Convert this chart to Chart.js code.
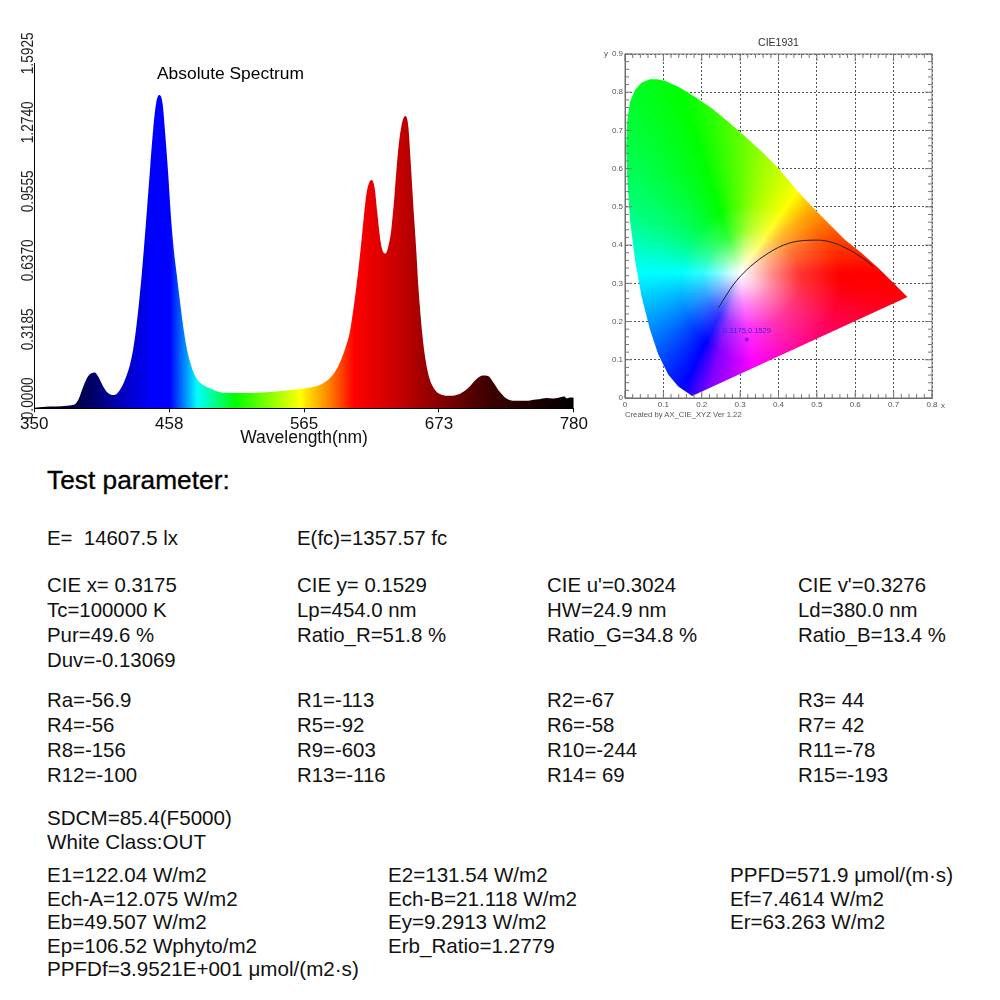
<!DOCTYPE html>
<html>
<head>
<meta charset="utf-8">
<script src="https://cdn.jsdelivr.net/npm/chart.js@4"></script>
<style>
body { margin: 0; background: #fff; font-family: "Liberation Sans", Arial, sans-serif; color: #111; }
canvas { position: absolute; }
.b { position: absolute; font-size: 20.4px; line-height: 25px; white-space: pre; }
.c { font-size: 20.6px; line-height: 23.6px; }
</style>
</head>
<body>
<canvas id="spectrumChart" width="590" height="430" style="left:0;top:20px"></canvas>
<canvas id="cieChart" width="370" height="400" style="left:590px;top:30px"></canvas>

<div class="b" style="left:157px;top:60px;font-size:17.4px;line-height:26px;color:#000">Absolute Spectrum</div>
<div class="b" style="left:678px;top:35px;width:201px;text-align:center;font-size:10.5px;line-height:14px;color:#333">CIE1931</div>
<div class="b" style="left:625px;top:408px;font-size:7.7px;line-height:14px;color:#555">Created by AX_CIE_XYZ Ver 1.22</div>

<div class="b" style="left:47px;top:465px;font-size:26.3px;line-height:30px;color:#000;-webkit-text-stroke:0.3px #000">Test parameter:</div>

<div class="b" style="left:47px;top:526px">E=  14607.5 lx</div>
<div class="b" style="left:297px;top:526px">E(fc)=1357.57 fc</div>

<div class="b" style="left:47px;top:573px">CIE x= 0.3175
Tc=100000 K
Pur=49.6 %
Duv=-0.13069</div>
<div class="b" style="left:297px;top:573px">CIE y= 0.1529
Lp=454.0 nm
Ratio_R=51.8 %</div>
<div class="b" style="left:547px;top:573px">CIE u'=0.3024
HW=24.9 nm
Ratio_G=34.8 %</div>
<div class="b" style="left:798px;top:573px">CIE v'=0.3276
Ld=380.0 nm
Ratio_B=13.4 %</div>

<div class="b" style="left:47px;top:688px">Ra=-56.9
R4=-56
R8=-156
R12=-100</div>
<div class="b" style="left:297px;top:688px">R1=-113
R5=-92
R9=-603
R13=-116</div>
<div class="b" style="left:547px;top:688px">R2=-67
R6=-58
R10=-244
R14= 69</div>
<div class="b" style="left:798px;top:688px">R3= 44
R7= 42
R11=-78
R15=-193</div>

<div class="b c" style="left:47px;top:806px">SDCM=85.4(F5000)
White Class:OUT</div>

<div class="b c" style="left:47px;top:863px">E1=122.04 W/m2
Ech-A=12.075 W/m2
Eb=49.507 W/m2
Ep=106.52 Wphyto/m2
PPFDf=3.9521E+001 μmol/(m2·s)</div>
<div class="b c" style="left:388px;top:863px">E2=131.54 W/m2
Ech-B=21.118 W/m2
Ey=9.2913 W/m2
Erb_Ratio=1.2779</div>
<div class="b c" style="left:730px;top:863px">PPFD=571.9 μmol/(m·s)
Ef=7.4614 W/m2
Er=63.263 W/m2</div>

<script>
// spectrum
const wavelengths = [350, 362.5, 381, 385, 389, 393, 398, 401, 405, 409, 413.5, 418.2, 422.2, 426.2, 428.8, 431.5, 433.6, 435.5, 437.4, 439.7, 442.4, 444.8, 447, 449.6, 452.2, 454.1, 456.5, 459.1, 461.2, 463.4, 466, 468.7, 471.8, 475.3, 479.3, 484.6, 490, 498, 509, 519.5, 535, 551, 561.6, 570, 577.5, 585.5, 592, 597.4, 601.4, 604, 606, 608, 610.7, 612.5, 614.6, 616.8, 618.9, 621.3, 623.4, 625.8, 627.9, 630, 632.1, 634.5, 637.2, 639.8, 642.5, 645.7, 648.1, 649.9, 652.3, 654.4, 656, 658, 660, 662.5, 665.1, 670.4, 674.4, 681, 689, 695.6, 702.3, 707.6, 711.6, 715.5, 720.8, 726, 731.5, 742, 750, 752.7, 758, 763.3, 768, 772.6, 774, 777, 780];
const intensities = [0.003, 0.008, 0.015, 0.038, 0.10, 0.149, 0.165, 0.146, 0.10, 0.069, 0.061, 0.085, 0.131, 0.20, 0.272, 0.385, 0.495, 0.61, 0.74, 0.91, 1.115, 1.29, 1.405, 1.446, 1.408, 1.285, 1.10, 0.869, 0.731, 0.623, 0.50, 0.377, 0.269, 0.192, 0.138, 0.108, 0.092, 0.074, 0.071, 0.071, 0.074, 0.082, 0.089, 0.096, 0.108, 0.139, 0.192, 0.269, 0.35, 0.445, 0.53, 0.625, 0.77, 0.875, 0.985, 1.04, 1.054, 1.015, 0.90, 0.777, 0.723, 0.715, 0.746, 0.823, 0.992, 1.177, 1.30, 1.349, 1.30, 1.146, 0.915, 0.731, 0.57, 0.42, 0.30, 0.20, 0.135, 0.077, 0.063, 0.058, 0.066, 0.092, 0.134, 0.151, 0.149, 0.123, 0.077, 0.046, 0.035, 0.035, 0.041, 0.042, 0.047, 0.045, 0.049, 0.054, 0.046, 0.050, 0.049];
const xTickValues = [350, 457.5, 565, 672.5, 780];
const xTickLabels = ['350', '458', '565', '673', '780'];
const yTickValues = [0, 0.3185, 0.637, 0.9555, 1.274, 1.5925];
const yTickLabels = ['0.0000', '0.3185', '0.6370', '0.9555', '1.2740', '1.5925'];

// CIE 1931 diagram
const locusX = [0.175, 0.139, 0.113, 0.087, 0.065, 0.043, 0.026, 0.013, 0.006, 0.003, 0.006, 0.013, 0.026, 0.043, 0.065, 0.083, 0.104, 0.139, 0.182, 0.226, 0.269, 0.313, 0.356, 0.400, 0.443, 0.487, 0.530, 0.573, 0.617, 0.660, 0.704, 0.736, 0.175];
const locusY = [0.005, 0.030, 0.061, 0.113, 0.179, 0.266, 0.361, 0.466, 0.571, 0.658, 0.727, 0.775, 0.806, 0.825, 0.834, 0.834, 0.830, 0.814, 0.788, 0.758, 0.723, 0.684, 0.645, 0.601, 0.549, 0.501, 0.457, 0.414, 0.379, 0.340, 0.296, 0.264, 0.005];
const planckX = [0.243, 0.282, 0.317, 0.360, 0.413, 0.465, 0.504, 0.543, 0.586, 0.621, 0.647];
const planckY = [0.235, 0.296, 0.335, 0.370, 0.400, 0.412, 0.413, 0.406, 0.387, 0.365, 0.344];
const pointX = [0.3175];
const pointY = [0.1529];
const pointLabel = '0.3175,0.1529';

// fill colours along the wavelength axis
const specStops = [[350, '#000000'], [380, '#000040'], [400, '#000070'], [420, '#0000c0'], [445, '#0000ff'], [458, '#0000ff'], [480, '#00ffff'], [510, '#00ff00'], [562, '#ffff00'], [585, '#ff8000'], [605, '#ff0000'], [640, '#c80000'], [680, '#780000'], [710, '#400000'], [780, '#000000']];
// hue around the white point, degrees clockwise from east
const hueStops = [[0, '#ff0000'], [5, '#ff0000'], [28, '#ff0050'], [50, '#ff0090'], [82, '#ff00ff'], [105, '#8000ff'], [116, '#0000ff'], [145, '#0080ff'], [180, '#00ffff'], [209, '#00ff80'], [252, '#00ff00'], [282, '#a0ff00'], [305, '#ffff00'], [317, '#ffb000'], [338, '#ff5000'], [352, '#ff2000'], [360, '#ff0000']];

const font = '"Liberation Sans", Arial, sans-serif';

function specFill(ctx) {
    const { chart } = ctx;
    if (!chart.chartArea) return 'transparent';
    const sx = chart.scales.x;
    const g = chart.ctx.createLinearGradient(sx.left, 0, sx.right, 0);
    specStops.forEach(s => g.addColorStop((s[0] - sx.min) / (sx.max - sx.min), s[1]));
    return g;
}

function hueFill(ctx) {
    const { chart } = ctx;
    if (!chart.chartArea) return 'transparent';
    const g = chart.ctx.createConicGradient(0, chart.scales.x.getPixelForValue(0.30), chart.scales.y.getPixelForValue(0.327));
    hueStops.forEach(s => g.addColorStop(s[0] / 360, s[1]));
    return g;
}

// whitening reaches further to the lower right than to the left
function whiteFill(ctx) {
    const { chart } = ctx;
    if (!chart.chartArea) return 'transparent';
    const cx = chart.scales.x.getPixelForValue(0.30), cy = chart.scales.y.getPixelForValue(0.327);
    const g = chart.ctx.createRadialGradient(cx, cy, 0, cx + 20, cy + 10, 80);
    g.addColorStop(0, 'rgba(255,255,255,1)');
    g.addColorStop(0.15, 'rgba(255,255,255,0.8)');
    g.addColorStop(0.35, 'rgba(255,255,255,0.5)');
    g.addColorStop(0.6, 'rgba(255,255,255,0.2)');
    g.addColorStop(1, 'rgba(255,255,255,0)');
    return g;
}

// rotated value labels, they sit a bit above their tick
const rotatedYLabels = {
    id: 'rotatedYLabels',
    afterDraw(chart) {
        const c = chart.ctx, sy = chart.scales.y;
        yTickValues.forEach((v, i) => {
            c.save();
            c.translate(33, sy.getPixelForValue(v) - 10);
            c.rotate(-Math.PI / 2);
            c.font = '16px ' + font;
            c.fillStyle = '#222';
            c.textAlign = 'center';
            c.textBaseline = 'alphabetic';
            c.fillText(yTickLabels[i], 0, 0, 42);
            c.restore();
        });
    }
};

// frame, comb ticks and the small labels of the CIE plot
const cieFrame = {
    id: 'cieFrame',
    afterDatasetsDraw(chart) {
        const c = chart.ctx, sx = chart.scales.x, sy = chart.scales.y, a = chart.chartArea;
        c.save();
        c.strokeStyle = '#777';
        c.lineWidth = 1;
        c.strokeRect(a.left, a.top, a.right - a.left, a.bottom - a.top);
        c.beginPath();
        for (let i = 0; i <= 40; i++) {
            const x = sx.getPixelForValue(i * 0.02), len = i % 5 === 0 ? 7 : 4;
            c.moveTo(x, a.bottom); c.lineTo(x, a.bottom - len);
            c.moveTo(x, a.top); c.lineTo(x, a.top + len);
        }
        for (let i = 0; i <= 45; i++) {
            const y = sy.getPixelForValue(i * 0.02), len = i % 5 === 0 ? 7 : 4;
            c.moveTo(a.left, y); c.lineTo(a.left + len, y);
            c.moveTo(a.right, y); c.lineTo(a.right - len, y);
        }
        c.stroke();
        c.font = '8px ' + font;
        c.fillStyle = '#555';
        c.fillText('x', a.right + 9, a.bottom + 10);
        c.fillText('y', a.left - 21, a.top + 2);
        c.font = '7.5px ' + font;
        c.fillStyle = '#4020e0';
        c.textAlign = 'center';
        c.fillText(pointLabel, sx.getPixelForValue(pointX[0]), sy.getPixelForValue(pointY[0]) - 7);
        c.restore();
    }
};

try {
    new Chart(document.getElementById('spectrumChart'), {
        type: 'line',
        data: {
            datasets: [{
                data: wavelengths.map((w, i) => ({ x: w, y: intensities[i] })),
                backgroundColor: specFill,
                borderWidth: 0,
                pointRadius: 0,
                cubicInterpolationMode: 'monotone',
                fill: 'origin'
            }]
        },
        options: {
            responsive: false,
            animation: false,
            layout: { padding: { left: 34.3, right: 15.7, top: 43.3, bottom: 1.7 } },
            plugins: { legend: { display: false }, tooltip: { enabled: false } },
            scales: {
                x: {
                    type: 'linear',
                    min: 350,
                    max: 780,
                    afterBuildTicks: s => { s.ticks = xTickValues.map(v => ({ value: v })); },
                    afterFit: s => { s.height = 40; },
                    ticks: {
                        autoSkip: false,
                        maxRotation: 0,
                        padding: 2,
                        color: '#111',
                        font: { family: font, size: 17 },
                        callback: v => xTickLabels[xTickValues.indexOf(v)]
                    },
                    grid: { drawOnChartArea: false, tickLength: 4, color: '#000' },
                    border: { color: '#000' },
                    title: { display: true, text: 'Wavelength(nm)', color: '#111', padding: 0, font: { family: font, size: 17.5 } }
                },
                y: {
                    min: 0,
                    max: 1.5925,
                    afterFit: s => { s.width = 0; },
                    ticks: { display: false },
                    grid: { display: false },
                    border: { color: '#000' }
                }
            }
        },
        plugins: [rotatedYLabels]
    });
} catch (e) { console.error('Crash in spectrumChart', e); }

try {
    const locus = locusX.map((x, i) => ({ x, y: locusY[i] }));
    new Chart(document.getElementById('cieChart'), {
        type: 'scatter',
        data: {
            datasets: [
                { data: pointX.map((x, i) => ({ x, y: pointY[i] })), pointStyle: 'rectRot', pointRadius: 2, backgroundColor: '#b000e0', borderColor: '#7020e0', borderWidth: 1, order: 0 },
                { data: planckX.map((x, i) => ({ x, y: planckY[i] })), showLine: true, borderColor: '#222', borderWidth: 1, pointRadius: 0, cubicInterpolationMode: 'monotone', order: 1 },
                { data: locus, showLine: true, fill: 'shape', backgroundColor: whiteFill, borderWidth: 0, pointRadius: 0, order: 2 },
                { data: locus, showLine: true, fill: 'shape', backgroundColor: hueFill, borderWidth: 0, pointRadius: 0, order: 3 }
            ]
        },
        options: {
            responsive: false,
            animation: false,
            layout: { padding: { right: 28, top: 24, bottom: 0 } },
            plugins: { legend: { display: false }, tooltip: { enabled: false } },
            scales: {
                x: {
                    type: 'linear',
                    min: 0,
                    max: 0.8,
                    afterFit: s => { s.height = 32; },
                    ticks: { stepSize: 0.1, padding: 2, maxRotation: 0, color: '#555', font: { family: font, size: 8 }, callback: v => v === 0 ? '0' : v.toFixed(1) },
                    grid: { color: '#555', drawTicks: false },
                    border: { dash: [2, 2], color: '#666' }
                },
                y: {
                    min: 0,
                    max: 0.9,
                    afterFit: s => { s.width = 35; },
                    ticks: { stepSize: 0.1, padding: 2, color: '#555', font: { family: font, size: 8 }, callback: v => v === 0 ? '0' : v.toFixed(1) },
                    grid: { color: '#555', drawTicks: false },
                    border: { dash: [2, 2], color: '#666' }
                }
            }
        },
        plugins: [cieFrame]
    });
} catch (e) { console.error('Crash in cieChart', e); }
</script>
</body>
</html>
